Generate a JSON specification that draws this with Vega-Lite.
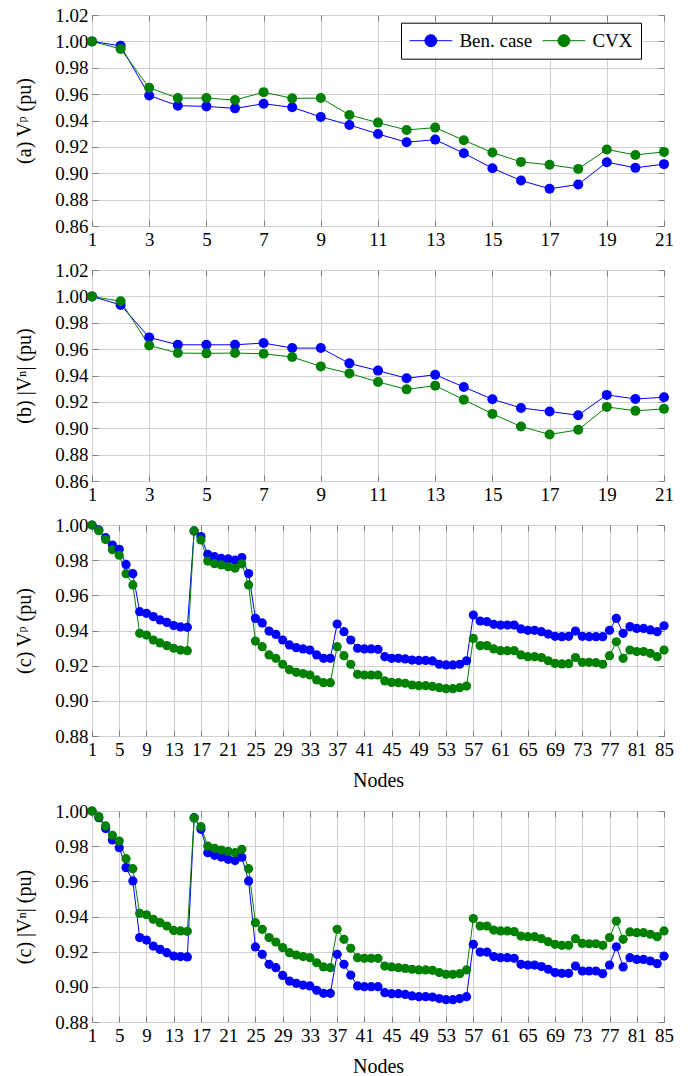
{
"$schema": "https://vega.github.io/schema/vega-lite/v6.json",
"padding": {"left": 14, "top": 5, "right": 5, "bottom": 0},
"spacing": 10,
"resolve": {"legend": {"color": "independent"}},
"config": {
  "font": "Liberation Serif",
  "axis": {"labelFont": "Liberation Serif", "labelFontSize": 19, "labelColor": "black", "titleFont": "Liberation Serif", "titleFontSize": 20, "titleFontWeight": "normal", "titleColor": "black", "gridColor": "#d0d0d0", "gridWidth": 1, "domain": false, "ticks": true, "tickSize": -6, "tickColor": "#808080", "tickWidth": 1, "labelPadding": 10, "labelOverlap": false, "labelFlush": false},
  "axisY": {"titlePadding": 20},
  "axisX": {"titlePadding": 11},
  "view": {"stroke": "black", "strokeWidth": 1}
},
"datasets": {
  "a": [
    {"n":1,"B":1.000,"C":1.000},{"n":2,"B":0.9966,"C":0.9943},{"n":3,"B":0.959,"C":0.9648},{"n":4,"B":0.9512,"C":0.957},
    {"n":5,"B":0.9507,"C":0.957},{"n":6,"B":0.9492,"C":0.9555},{"n":7,"B":0.9527,"C":0.9615},{"n":8,"B":0.950,"C":0.9568},
    {"n":9,"B":0.9427,"C":0.957},{"n":10,"B":0.9366,"C":0.9442},{"n":11,"B":0.9298,"C":0.9384},{"n":12,"B":0.9235,"C":0.9328},
    {"n":13,"B":0.9255,"C":0.9346},{"n":14,"B":0.9152,"C":0.925},{"n":15,"B":0.9038,"C":0.9157},{"n":16,"B":0.8945,"C":0.9086},
    {"n":17,"B":0.8882,"C":0.9064},{"n":18,"B":0.8915,"C":0.9033},{"n":19,"B":0.9084,"C":0.918},{"n":20,"B":0.9041,"C":0.9139},
    {"n":21,"B":0.9069,"C":0.9162}
  ],
  "b": [
    {"n":1,"B":1.000,"C":1.000},{"n":2,"B":0.9935,"C":0.9963},{"n":3,"B":0.9689,"C":0.9628},{"n":4,"B":0.9633,"C":0.957},
    {"n":5,"B":0.9633,"C":0.9568},{"n":6,"B":0.9633,"C":0.957},{"n":7,"B":0.9646,"C":0.9565},{"n":8,"B":0.9608,"C":0.954},
    {"n":9,"B":0.9608,"C":0.9469},{"n":10,"B":0.9492,"C":0.9416},{"n":11,"B":0.9437,"C":0.9351},{"n":12,"B":0.9379,"C":0.9295},
    {"n":13,"B":0.9406,"C":0.9323},{"n":14,"B":0.9313,"C":0.9217},{"n":15,"B":0.922,"C":0.9109},{"n":16,"B":0.9154,"C":0.9013},
    {"n":17,"B":0.9127,"C":0.8953},{"n":18,"B":0.9099,"C":0.8988},{"n":19,"B":0.9253,"C":0.9162},{"n":20,"B":0.9222,"C":0.9132},
    {"n":21,"B":0.9235,"C":0.9147}
  ],
  "c": [
    {"n":1,"B":1.000,"C":1.000},{"n":2,"B":0.9972,"C":0.9968},{"n":3,"B":0.9928,"C":0.9917},{"n":4,"B":0.9886,"C":0.986},
    {"n":5,"B":0.9862,"C":0.9828},{"n":6,"B":0.9776,"C":0.9723},{"n":7,"B":0.9723,"C":0.9659},{"n":8,"B":0.9507,"C":0.9384},
    {"n":9,"B":0.9498,"C":0.9374},{"n":10,"B":0.9479,"C":0.9346},{"n":11,"B":0.946,"C":0.9329},{"n":12,"B":0.9446,"C":0.9314},
    {"n":13,"B":0.9428,"C":0.9299},{"n":14,"B":0.942,"C":0.9289},{"n":15,"B":0.9418,"C":0.9285},{"n":16,"B":0.9966,"C":0.9966},
    {"n":17,"B":0.9934,"C":0.9915},{"n":18,"B":0.9833,"C":0.9795},{"n":19,"B":0.982,"C":0.978},{"n":20,"B":0.981,"C":0.9773},
    {"n":21,"B":0.9807,"C":0.9763},{"n":22,"B":0.980,"C":0.9754},{"n":23,"B":0.9815,"C":0.9779},{"n":24,"B":0.9724,"C":0.9659},
    {"n":25,"B":0.9469,"C":0.934},{"n":26,"B":0.9443,"C":0.9308},{"n":27,"B":0.9397,"C":0.9261},{"n":28,"B":0.9378,"C":0.9242},
    {"n":29,"B":0.9346,"C":0.9208},{"n":30,"B":0.9318,"C":0.9177},{"n":31,"B":0.9302,"C":0.9162},{"n":32,"B":0.9295,"C":0.9155},
    {"n":33,"B":0.9289,"C":0.9147},{"n":34,"B":0.9261,"C":0.9119},{"n":35,"B":0.9242,"C":0.9103},{"n":36,"B":0.9242,"C":0.9103},
    {"n":37,"B":0.9437,"C":0.9308},{"n":38,"B":0.9393,"C":0.9257},{"n":39,"B":0.9346,"C":0.9208},{"n":40,"B":0.9299,"C":0.9151},
    {"n":41,"B":0.9295,"C":0.9147},{"n":42,"B":0.9295,"C":0.9147},{"n":43,"B":0.9293,"C":0.9147},{"n":44,"B":0.9251,"C":0.9113},
    {"n":45,"B":0.9242,"C":0.9105},{"n":46,"B":0.9242,"C":0.9103},{"n":47,"B":0.9238,"C":0.910},{"n":48,"B":0.9232,"C":0.909},
    {"n":49,"B":0.923,"C":0.9086},{"n":50,"B":0.923,"C":0.9086},{"n":51,"B":0.9227,"C":0.9082},{"n":52,"B":0.9208,"C":0.9075},
    {"n":53,"B":0.9204,"C":0.9069},{"n":54,"B":0.9204,"C":0.9069},{"n":55,"B":0.9208,"C":0.9075},{"n":56,"B":0.9228,"C":0.9084},
    {"n":57,"B":0.9488,"C":0.9355},{"n":58,"B":0.9454,"C":0.9314},{"n":59,"B":0.945,"C":0.9314},{"n":60,"B":0.9435,"C":0.9295},
    {"n":61,"B":0.9431,"C":0.9285},{"n":62,"B":0.9431,"C":0.9285},{"n":63,"B":0.9431,"C":0.9285},{"n":64,"B":0.9409,"C":0.9261},
    {"n":65,"B":0.9401,"C":0.9251},{"n":66,"B":0.9401,"C":0.9251},{"n":67,"B":0.9393,"C":0.9246},{"n":68,"B":0.938,"C":0.9228},
    {"n":69,"B":0.9367,"C":0.9213},{"n":70,"B":0.9365,"C":0.921},{"n":71,"B":0.9367,"C":0.9211},{"n":72,"B":0.9397,"C":0.9246},
    {"n":73,"B":0.9367,"C":0.9219},{"n":74,"B":0.9365,"C":0.9219},{"n":75,"B":0.9365,"C":0.9217},{"n":76,"B":0.9365,"C":0.9208},
    {"n":77,"B":0.9401,"C":0.9257},{"n":78,"B":0.9469,"C":0.9336},{"n":79,"B":0.9384,"C":0.9242},{"n":80,"B":0.9422,"C":0.9289},
    {"n":81,"B":0.9412,"C":0.928},{"n":82,"B":0.9412,"C":0.928},{"n":83,"B":0.9403,"C":0.927},{"n":84,"B":0.9393,"C":0.9251},
    {"n":85,"B":0.9427,"C":0.9289}
  ],
  "d": [
    {"n":1,"B":1.000,"C":1.000},{"n":2,"B":0.9962,"C":0.9968},{"n":3,"B":0.990,"C":0.9915},{"n":4,"B":0.9835,"C":0.9862},
    {"n":5,"B":0.9791,"C":0.9829},{"n":6,"B":0.9678,"C":0.9729},{"n":7,"B":0.9602,"C":0.9672},{"n":8,"B":0.928,"C":0.9418},
    {"n":9,"B":0.9266,"C":0.941},{"n":10,"B":0.9232,"C":0.9384},{"n":11,"B":0.9213,"C":0.9365},{"n":12,"B":0.9194,"C":0.9346},
    {"n":13,"B":0.9175,"C":0.9321},{"n":14,"B":0.9172,"C":0.9318},{"n":15,"B":0.917,"C":0.9316},{"n":16,"B":0.9962,"C":0.996},
    {"n":17,"B":0.9896,"C":0.9911},{"n":18,"B":0.9763,"C":0.9801},{"n":19,"B":0.9748,"C":0.9788},{"n":20,"B":0.9738,"C":0.9778},
    {"n":21,"B":0.9725,"C":0.9771},{"n":22,"B":0.9718,"C":0.9763},{"n":23,"B":0.9737,"C":0.9782},{"n":24,"B":0.9602,"C":0.9672},
    {"n":25,"B":0.9227,"C":0.9365},{"n":26,"B":0.9185,"C":0.9327},{"n":27,"B":0.9128,"C":0.928},{"n":28,"B":0.9109,"C":0.9255},
    {"n":29,"B":0.9065,"C":0.9223},{"n":30,"B":0.9033,"C":0.9194},{"n":31,"B":0.902,"C":0.9181},{"n":32,"B":0.901,"C":0.9172},
    {"n":33,"B":0.9005,"C":0.9166},{"n":34,"B":0.898,"C":0.9137},{"n":35,"B":0.8963,"C":0.9113},{"n":36,"B":0.8963,"C":0.9109},
    {"n":37,"B":0.9185,"C":0.9327},{"n":38,"B":0.9128,"C":0.927},{"n":39,"B":0.9067,"C":0.9219},{"n":40,"B":0.9005,"C":0.9166},
    {"n":41,"B":0.9001,"C":0.9162},{"n":42,"B":0.9001,"C":0.9162},{"n":43,"B":0.9001,"C":0.9162},{"n":44,"B":0.8967,"C":0.9118},
    {"n":45,"B":0.8961,"C":0.9113},{"n":46,"B":0.8961,"C":0.9109},{"n":47,"B":0.8957,"C":0.9105},{"n":48,"B":0.8948,"C":0.910},
    {"n":49,"B":0.8944,"C":0.9096},{"n":50,"B":0.8944,"C":0.9096},{"n":51,"B":0.8942,"C":0.9094},{"n":52,"B":0.8933,"C":0.9081},
    {"n":53,"B":0.8927,"C":0.9071},{"n":54,"B":0.8927,"C":0.9071},{"n":55,"B":0.8933,"C":0.9075},{"n":56,"B":0.8944,"C":0.9096},
    {"n":57,"B":0.9242,"C":0.9388},{"n":58,"B":0.9198,"C":0.9346},{"n":59,"B":0.9198,"C":0.9346},{"n":60,"B":0.9172,"C":0.9323},
    {"n":61,"B":0.9166,"C":0.9318},{"n":62,"B":0.9166,"C":0.9318},{"n":63,"B":0.9162,"C":0.9314},{"n":64,"B":0.9128,"C":0.9289},
    {"n":65,"B":0.9124,"C":0.9285},{"n":66,"B":0.9124,"C":0.9285},{"n":67,"B":0.9115,"C":0.9274},{"n":68,"B":0.910,"C":0.9257},
    {"n":69,"B":0.9081,"C":0.9242},{"n":70,"B":0.9077,"C":0.9236},{"n":71,"B":0.9077,"C":0.9236},{"n":72,"B":0.9118,"C":0.9274},
    {"n":73,"B":0.909,"C":0.9247},{"n":74,"B":0.909,"C":0.9245},{"n":75,"B":0.909,"C":0.9245},{"n":76,"B":0.9075,"C":0.9236},
    {"n":77,"B":0.9124,"C":0.928},{"n":78,"B":0.9228,"C":0.9374},{"n":79,"B":0.9113,"C":0.927},{"n":80,"B":0.9166,"C":0.9312},
    {"n":81,"B":0.9156,"C":0.9308},{"n":82,"B":0.9156,"C":0.9308},{"n":83,"B":0.9147,"C":0.9299},{"n":84,"B":0.9132,"C":0.9285},
    {"n":85,"B":0.9175,"C":0.9318}
  ]
},
"vconcat": [
  {
    "width": 572, "height": 211,
    "data": {"name": "a"},
    "transform": [{"fold": ["B", "C"], "as": ["s", "v"]}],
    "resolve": {"axis": {"x": "independent", "y": "independent"}},
    "encoding": {
      "x": {"field": "n", "type": "quantitative", "scale": {"domain": [1, 21], "nice": false, "zero": false}, "axis": {"values": [1,3,5,7,9,11,13,15,17,19,21], "title": null}},
      "y": {"field": "v", "type": "quantitative", "scale": {"domain": [0.86, 1.02], "nice": false, "zero": false}, "axis": {"values": [0.86,0.88,0.90,0.92,0.94,0.96,0.98,1.00,1.02], "format": ".2f", "title": "(a) Vᵖ (pu)"}},
      "color": {"field": "s", "type": "nominal", "scale": {"domain": ["B", "C"], "range": ["#0000ff", "#008000"]},
        "legend": {"title": null, "orient": "none", "legendX": 309, "legendY": 7.7, "direction": "horizontal",
          "symbolType": "M-1,0H3.5M1.88,0A0.63,0.63,0,1,1,0.62,0A0.63,0.63,0,1,1,1.88,0Z", "symbolSize": 361, "symbolStrokeWidth": 1,
          "labelFont": "Liberation Serif", "labelFontSize": 19, "labelColor": "black", "labelExpr": "datum.label == 'B' ? 'Ben. case' : 'CVX'",
          "strokeColor": "black", "fillColor": "white", "padding": 8, "cornerRadius": 0, "columnPadding": 7, "labelOffset": 30.4, "symbolOpacity": 1,
          "encode": {"symbols": {"update": {"fill": {"scale": "color", "field": "value"}, "stroke": {"scale": "color", "field": "value"}}}}}}
    },
    "layer": [
      {"mark": {"type": "line", "strokeWidth": 1}, "encoding": {}},
      {"mark": {"type": "point", "filled": true, "size": 100, "opacity": 1},
       "encoding": {
         "x": {"field": "n", "type": "quantitative", "axis": {"orient": "top", "values": [1,3,5,7,9,11,13,15,17,19,21], "labels": false, "grid": false, "title": null}},
         "y": {"field": "v", "type": "quantitative", "axis": {"orient": "right", "values": [0.86,0.88,0.90,0.92,0.94,0.96,0.98,1.00,1.02], "labels": false, "grid": false, "title": null}}
       }}
    ]
  },
  {
    "width": 572, "height": 211,
    "data": {"name": "b"},
    "transform": [{"fold": ["B", "C"], "as": ["s", "v"]}],
    "resolve": {"axis": {"x": "independent", "y": "independent"}},
    "encoding": {
      "x": {"field": "n", "type": "quantitative", "scale": {"domain": [1, 21], "nice": false, "zero": false}, "axis": {"values": [1,3,5,7,9,11,13,15,17,19,21], "title": null}},
      "y": {"field": "v", "type": "quantitative", "scale": {"domain": [0.86, 1.02], "nice": false, "zero": false}, "axis": {"values": [0.86,0.88,0.90,0.92,0.94,0.96,0.98,1.00,1.02], "format": ".2f", "title": "(b) |Vⁿ| (pu)"}},
      "color": {"field": "s", "type": "nominal", "scale": {"domain": ["B", "C"], "range": ["#0000ff", "#008000"]}, "legend": null}
    },
    "layer": [
      {"mark": {"type": "line", "strokeWidth": 1}, "encoding": {}},
      {"mark": {"type": "point", "filled": true, "size": 100, "opacity": 1},
       "encoding": {
         "x": {"field": "n", "type": "quantitative", "axis": {"orient": "top", "values": [1,3,5,7,9,11,13,15,17,19,21], "labels": false, "grid": false, "title": null}},
         "y": {"field": "v", "type": "quantitative", "axis": {"orient": "right", "values": [0.86,0.88,0.90,0.92,0.94,0.96,0.98,1.00,1.02], "labels": false, "grid": false, "title": null}}
       }}
    ]
  },
  {
    "width": 572, "height": 211,
    "data": {"name": "c"},
    "transform": [{"fold": ["B", "C"], "as": ["s", "v"]}],
    "resolve": {"axis": {"x": "independent", "y": "independent"}},
    "encoding": {
      "x": {"field": "n", "type": "quantitative", "scale": {"domain": [1, 85], "nice": false, "zero": false}, "axis": {"values": [1,5,9,13,17,21,25,29,33,37,41,45,49,53,57,61,65,69,73,77,81,85], "title": "Nodes"}},
      "y": {"field": "v", "type": "quantitative", "scale": {"domain": [0.88, 1.00], "nice": false, "zero": false}, "axis": {"values": [0.88,0.90,0.92,0.94,0.96,0.98,1.00], "format": ".2f", "title": "(c) Vᵖ (pu)"}},
      "color": {"field": "s", "type": "nominal", "scale": {"domain": ["B", "C"], "range": ["#0000ff", "#008000"]}, "legend": null}
    },
    "layer": [
      {"mark": {"type": "line", "strokeWidth": 1}, "encoding": {}},
      {"mark": {"type": "point", "filled": true, "size": 85, "opacity": 1},
       "encoding": {
         "x": {"field": "n", "type": "quantitative", "axis": {"orient": "top", "values": [1,5,9,13,17,21,25,29,33,37,41,45,49,53,57,61,65,69,73,77,81,85], "labels": false, "grid": false, "title": null}},
         "y": {"field": "v", "type": "quantitative", "axis": {"orient": "right", "values": [0.88,0.90,0.92,0.94,0.96,0.98,1.00], "labels": false, "grid": false, "title": null}}
       }}
    ]
  },
  {
    "width": 572, "height": 211,
    "data": {"name": "d"},
    "transform": [{"fold": ["B", "C"], "as": ["s", "v"]}],
    "resolve": {"axis": {"x": "independent", "y": "independent"}},
    "encoding": {
      "x": {"field": "n", "type": "quantitative", "scale": {"domain": [1, 85], "nice": false, "zero": false}, "axis": {"values": [1,5,9,13,17,21,25,29,33,37,41,45,49,53,57,61,65,69,73,77,81,85], "title": "Nodes"}},
      "y": {"field": "v", "type": "quantitative", "scale": {"domain": [0.88, 1.00], "nice": false, "zero": false}, "axis": {"values": [0.88,0.90,0.92,0.94,0.96,0.98,1.00], "format": ".2f", "title": "(c) |Vⁿ| (pu)"}},
      "color": {"field": "s", "type": "nominal", "scale": {"domain": ["B", "C"], "range": ["#0000ff", "#008000"]}, "legend": null}
    },
    "layer": [
      {"mark": {"type": "line", "strokeWidth": 1}, "encoding": {}},
      {"mark": {"type": "point", "filled": true, "size": 85, "opacity": 1},
       "encoding": {
         "x": {"field": "n", "type": "quantitative", "axis": {"orient": "top", "values": [1,5,9,13,17,21,25,29,33,37,41,45,49,53,57,61,65,69,73,77,81,85], "labels": false, "grid": false, "title": null}},
         "y": {"field": "v", "type": "quantitative", "axis": {"orient": "right", "values": [0.88,0.90,0.92,0.94,0.96,0.98,1.00], "labels": false, "grid": false, "title": null}}
       }}
    ]
  }
]
}
